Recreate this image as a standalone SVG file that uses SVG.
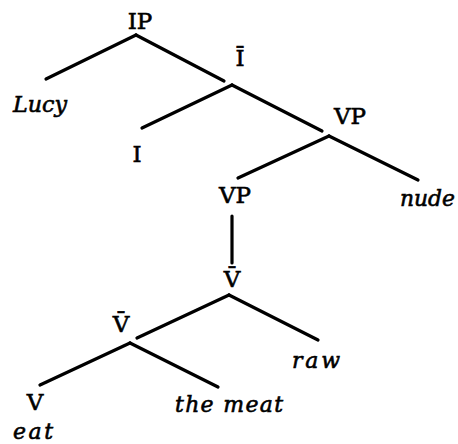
<svg xmlns="http://www.w3.org/2000/svg" width="458" height="444" viewBox="0 0 458 444">
<style>
.e{stroke:#000;stroke-width:3.2;stroke-linecap:round;fill:none}
.c{font-family:"DejaVu Serif","Liberation Serif",serif;font-size:23px;fill:#000;stroke:#000;stroke-width:0.6;text-anchor:middle}
.w{font-family:"DejaVu Serif","Liberation Serif",serif;font-style:italic;font-size:22px;fill:#000;stroke:#000;stroke-width:0.6}
</style>
<rect width="458" height="444" fill="#fff"/>
<g id="edges">
<line class="e" x1="136" y1="35" x2="46" y2="79"/>
<line class="e" x1="136" y1="35" x2="224" y2="81"/>
<line class="e" x1="232" y1="85" x2="142" y2="128"/>
<line class="e" x1="232" y1="85" x2="322" y2="131"/>
<line class="e" x1="329" y1="136" x2="238" y2="178"/>
<line class="e" x1="329" y1="136" x2="418" y2="180"/>
<line class="e" x1="232" y1="216" x2="232" y2="263"/>
<line class="e" x1="229" y1="295" x2="137" y2="338"/>
<line class="e" x1="229" y1="295" x2="318" y2="340"/>
<line class="e" x1="130" y1="343" x2="40" y2="385"/>
<line class="e" x1="130" y1="343" x2="218" y2="387"/>
</g>
<g id="n-IP"><text class="c" x="140" y="29">IP</text></g>
<g id="n-Ibar"><text class="c" x="240" y="66">Ī</text></g>
<g id="n-Lucy"><text class="w" x="13" y="112" textLength="54" lengthAdjust="spacingAndGlyphs">Lucy</text></g>
<g id="n-I"><text class="c" x="137" y="162">I</text></g>
<g id="n-VP1"><text class="c" x="350" y="124">VP</text></g>
<g id="n-nude"><text class="w" x="400" y="206" textLength="55" lengthAdjust="spacingAndGlyphs">nude</text></g>
<g id="n-VP2"><text class="c" x="235" y="203">VP</text></g>
<g id="n-Vbar1"><text class="c" x="232" y="287">V̄</text></g>
<g id="n-raw"><text class="w" x="292" y="368" textLength="48" lengthAdjust="spacing">raw</text></g>
<g id="n-Vbar2"><text class="c" x="121" y="332">V̄</text></g>
<g id="n-V"><text class="c" x="35" y="410">V</text></g>
<g id="n-meat"><text class="w" x="175" y="412" textLength="108" lengthAdjust="spacing">the meat</text></g>
<g id="n-eat"><text class="w" x="13" y="439" textLength="40" lengthAdjust="spacing">eat</text></g>
</svg>
